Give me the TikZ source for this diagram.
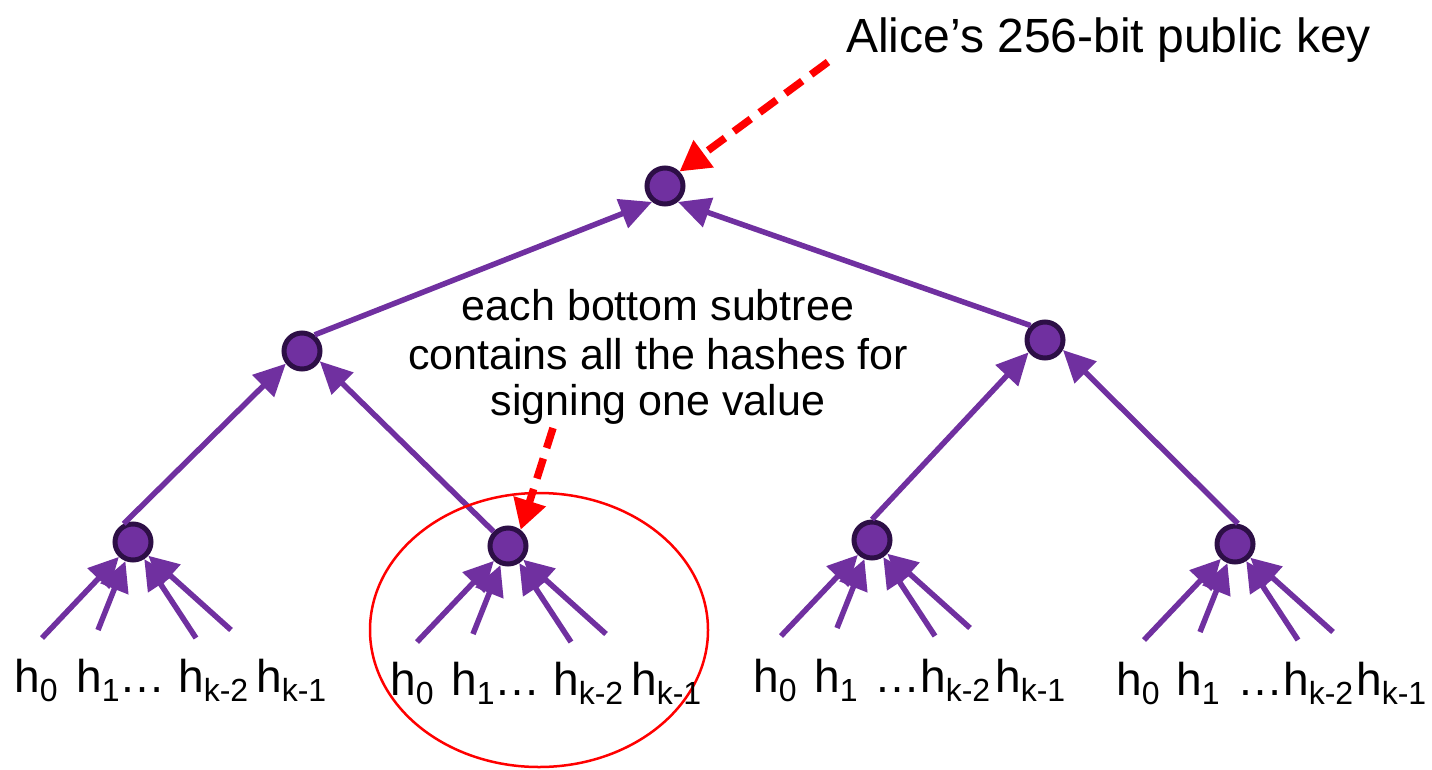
\documentclass[tikz,border=0pt]{standalone}
\usepackage{fontspec}
\setmainfont{Liberation Sans}
\usetikzlibrary{arrows.meta}
\definecolor{ppl}{RGB}{112,48,160}
\definecolor{dppl}{RGB}{45,15,70}
\newcommand\hsub[1]{h\raisebox{-0.2em}{\fontsize{32}{32}\selectfont #1}}
\begin{document}
\begin{tikzpicture}[x=1pt,y=-1pt,
  hnode/.style={circle, fill=ppl, draw=dppl, line width=5pt, minimum size=36pt, inner sep=0pt},
  edge/.style={draw=ppl, line width=5.5pt, -{Triangle[length=32pt 0 0,width=30pt 0 0]}},
  leafedge/.style={draw=ppl, line width=5.5pt, -{Triangle[length=30pt 0 0,width=29pt 0 0]}},
  redarrow/.style={draw=red, line width=7.5pt, dash pattern=on 21pt off 11pt, -{Triangle[length=30pt 0 0,width=32pt 0 0]}},
  lab/.style={anchor=base west, inner sep=0pt, font=\fontsize{46}{46}\selectfont},
  txt/.style={anchor=base, inner sep=0pt, font=\fontsize{43}{43}\selectfont}]
\useasboundingbox (0,0) rectangle (1432,769);

% nodes
\node[hnode] (root) at (665,186) {};
\node[hnode] (A) at (302,351) {};
\node[hnode] (B) at (1045,340) {};
\node[hnode] (C1) at (133,542) {};
\node[hnode] (C2) at (508,546) {};
\node[hnode] (C3) at (872,540) {};
\node[hnode] (C4) at (1235,544) {};

% tree edges
\draw[edge] (A.52) -- (root.231);
\draw[edge] (B.135) -- (root.309);
\draw[edge] (C1.117) -- (A.218);
\draw[edge] (C2.135) -- (A.330);
\draw[edge] (C3.90) -- (B.217);
\draw[edge] (C4.82) -- (B.331);

% leaf arrows
\foreach \c in {C1,C2,C3,C4}{
  \coordinate (\c-a) at ([shift={(-91,96)}]\c.center);
  \coordinate (\c-b) at ([shift={(-35,88)}]\c.center);
  \coordinate (\c-c) at ([shift={(63,96)}]\c.center);
  \coordinate (\c-d) at ([shift={(98,88)}]\c.center);
  \draw[leafedge] (\c-a) -- (\c);
  \draw[leafedge] (\c-b) -- (\c);
  \draw[leafedge] (\c-c) -- (\c);
  \draw[leafedge] (\c-d) -- (\c);
}

% red ellipse
\draw[red, line width=2.5pt] (539,630) ellipse [x radius=169pt, y radius=137pt];

% red dashed arrows
\coordinate (r1) at (828,62);
\coordinate (r2) at (553,428);
\draw[redarrow] (r1) -- (root.45);
\draw[redarrow] (r2) -- (C2.52);

% texts
\node[anchor=base west, inner sep=0pt, font=\fontsize{48}{48}\selectfont] (title) at (846,52) {Alice’s 256-bit public key};
\node[txt] (m1) at (658,320) {each bottom subtree};
\node[txt] (m2) at (658,369) {contains all the hashes for};
\node[txt] (m3) at (658,415) {signing one value};

% leaf labels
\node[lab] (g1a) at (14,692) {\hsub{0}};
\node[lab] (g1b) at (76,692) {\hsub{1}…};
\node[lab] (g1c) at (178,692) {\hsub{k-2}};
\node[lab] (g1d) at (256,692) {\hsub{k-1}};

\node[lab] (g2a) at (390,695) {\hsub{0}};
\node[lab] (g2b) at (451,695) {\hsub{1}…};
\node[lab] (g2c) at (553,695) {\hsub{k-2}};
\node[lab] (g2d) at (631,695) {\hsub{k-1}};

\node[lab] (g3a) at (753,692) {\hsub{0}};
\node[lab] (g3b) at (814,692) {\hsub{1}};
\node[lab] (g3c) at (874,692) {…\hsub{k-2}};
\node[lab] (g3d) at (995,692) {\hsub{k-1}};

\node[lab] (g4a) at (1116,695) {\hsub{0}};
\node[lab] (g4b) at (1176,695) {\hsub{1}};
\node[lab] (g4c) at (1237,695) {…\hsub{k-2}};
\node[lab] (g4d) at (1356,695) {\hsub{k-1}};
\end{tikzpicture}
\end{document}
